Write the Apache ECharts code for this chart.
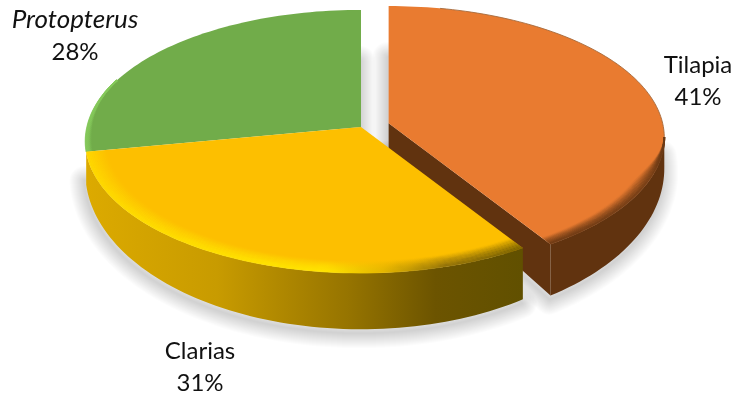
<!DOCTYPE html>
<html>
<head>
<meta charset="utf-8">
<style>html,body{margin:0;padding:0;background:#fff}#chart{width:737px;height:396px}</style>
<script src="https://cdn.jsdelivr.net/npm/echarts@6/dist/echarts.min.js"></script>
</head>
<body>
<div id="chart"></div>
<script>
// Fish catch composition, drawn as a tilted pie with a perspective rim.
const categories = ['Tilapia', 'Clarias', 'Protopterus'];
const shares = [41, 31, 28];
const topColors = ['#e97b30', '#fdbf00', '#71ac4a'];
const explode = [0.105, 0, 0];
const italicNames = ['Protopterus'];

// Projection of the disc: plane coordinates (px, pz) with pz pointing away from the viewer.
const view = { cx: 361, cy: 127, rx: 274, topB: 130, botB: 152, groundBack: 106, depth: 28, k: 0.11 };
const DEG = Math.PI / 180;
const total = shares.reduce((a, b) => a + b, 0);

function sliceAngles(i) {
  let start = 0;
  for (let j = 0; j < i; j++) start += shares[j] / total * 360;
  return [start, start + shares[i] / total * 360];
}
// plane: 'top' face, 'low' edge of the wall, or 'ground' for the cast shadow.
function project(i, deg, r, plane) {
  const [a, b] = sliceAngles(i);
  const mid = (a + b) / 2 * DEG;
  const px = r * Math.sin(deg * DEG);
  const pz = r * Math.cos(deg * DEG);
  const d = 1 + view.k * pz;
  let bb = view.topB, h = 0;
  if (plane === 'low') { bb = view.botB; h = view.depth; }
  if (plane === 'ground') { bb = pz > 0 ? view.groundBack : view.botB; h = view.depth; }
  const shiftX = explode[i] * Math.sin(mid) * view.rx;
  const shiftY = -explode[i] * Math.cos(mid) * view.topB;
  return [view.cx + shiftX + view.rx * px / d, view.cy + shiftY + (h - bb * pz) / d];
}
function arc(i, from, to, radius, plane) {
  const pts = [];
  const n = Math.max(2, Math.ceil(Math.abs(to - from) / 1.5));
  for (let s = 0; s <= n; s++) {
    const deg = from + (to - from) * s / n;
    const r = typeof radius === 'function' ? radius(deg) : radius;
    pts.push(project(i, deg, r, plane));
  }
  return pts;
}
function sideGradient(stops) {
  return {
    type: 'linear', x: 0, y: 0, x2: 1, y2: 0,
    colorStops: stops.map(s => ({ offset: s[0], color: s[1] }))
  };
}

// Wall and bevel paint per slice; the green slice shows no wall.
const wallPaint = [
  '#61330f',
  sideGradient([[0, '#dcaa00'], [0.3, '#c89b00'], [0.6, '#967400'], [0.8, '#6c5400'], [1, '#615000']]),
  null
];
const bevelPaint = [
  sideGradient([[0, '#6a3813'], [1, '#6a3813']]),
  sideGradient([[0, '#ffe000'], [0.55, '#ffe800'], [0.68, '#e0b400'], [0.82, '#86690a'], [1, '#6a5600']]),
  sideGradient([[0, '#84c85a'], [1, '#84c85a']])
];
// Stretch of rim that carries the bevel, its depth, and the angle over which it grows in.
const bevelRange = [[96, 147.6], [147.6, 259.2], [259.2, 292]];
const bevelWidth = [0.05, 0.075, 0.022];
const bevelGrow = [[96, 22], [0, 0], [292, -30]];
// Angular wedges of each slice that cast a visible shadow.
const shadowWedges = [[[0, 6], [90, 147.6]], [[147.6, 262]], [[352, 360]]];

const labelAnchors = [[698, 81], [200, 367], [75, 36]];

function smooth(t) {
  const x = Math.min(1, Math.max(0, t));
  return x * x * (3 - 2 * x);
}

function renderSlice(params, api) {
  const i = params.dataIndex;
  const share = api.value(0);
  const [a, b] = sliceAngles(i);
  const order = [10, 30, 20][i];
  const children = [];

  // Soft ground shadow under the disc, built from widening translucent outlines.
  shadowWedges[i].forEach(w => {
    const ground = arc(i, w[0], w[1], 1, 'ground').concat([project(i, 0, 0, 'ground')])
      .map(p => [p[0] - 1, p[1] + 4]);
    for (let width = 30; width >= 2; width -= 2) {
      children.push({
        type: 'polygon', z2: 1,
        shape: { points: ground },
        style: { fill: 'none', stroke: 'rgba(0,0,0,0.011)', lineWidth: width, lineJoin: 'round' }
      });
    }
  });

  // Outer wall on the viewer's side of the disc.
  const wa = Math.max(a, 96), wb = Math.min(b, 264);
  if (wallPaint[i] && wb > wa) {
    const wall = arc(i, wa, wb, 1, 'top').concat(arc(i, wb, wa, 1, 'low'));
    children.push({ type: 'polygon', z2: order, shape: { points: wall }, style: { fill: wallPaint[i] } });
  }
  // Cut face that turns towards the viewer.
  if (wallPaint[i] && Math.sin(b * DEG) > 0.01) {
    const face = [project(i, 0, 0, 'top'), project(i, b, 1, 'top'), project(i, b, 1, 'low'), project(i, 0, 0, 'low')];
    children.push({ type: 'polygon', z2: order, shape: { points: face }, style: { fill: wallPaint[i] } });
  }
  // Top face.
  const top = [project(i, 0, 0, 'top')].concat(arc(i, a, b, 1, 'top'));
  children.push({ type: 'polygon', z2: order + 1, shape: { points: top }, style: { fill: topColors[i] } });

  // Bevel: concentric strokes that fade into the top face.
  const range = bevelRange[i];
  const grow = bevelGrow[i];
  const taper = deg => (grow[1] === 0 ? 1 : smooth((deg - grow[0]) / grow[1]));
  const steps = 12;
  for (let s = 0; s < steps; s++) {
    const f = (s + 0.5) / steps;
    const radius = deg => 1 - bevelWidth[i] * f * taper(deg);
    children.push({
      type: 'polyline', z2: order + 2,
      shape: { points: arc(i, range[0], range[1], radius, 'top') },
      style: { stroke: bevelPaint[i], lineWidth: 1.8, fill: 'none', opacity: 0.8 * Math.pow(1 - f, 1.1) }
    });
  }
  // Thin dark outline on the far edge of the orange slice.
  if (i === 0) {
    children.push({
      type: 'polyline', z2: order + 2,
      shape: { points: arc(i, 12, 96, 1, 'top') },
      style: { stroke: '#a56a3c', lineWidth: 0.9, fill: 'none' }
    });
  }

  // Category and share label.
  const name = categories[i];
  const common = { x: labelAnchors[i][0], align: 'center', verticalAlign: 'middle', fill: '#111' };
  children.push({
    type: 'text', z2: 50,
    style: Object.assign({}, common, {
      y: labelAnchors[i][1] - 16, text: name,
      font: italicNames.includes(name) ? 'italic 26px Lato' : '24px Lato'
    })
  });
  children.push({
    type: 'text', z2: 50,
    style: Object.assign({}, common, { y: labelAnchors[i][1] + 16, text: share + '%', font: '24px Lato' })
  });
  return { type: 'group', children };
}

const chart = echarts.init(document.getElementById('chart'), null, { renderer: 'canvas' });
chart.setOption({
  animation: false,
  backgroundColor: '#fff',
  series: [{
    type: 'custom',
    coordinateSystem: 'none',
    silent: true,
    renderItem: renderSlice,
    data: shares.map((v, i) => ({ name: categories[i], value: [v] }))
  }]
});
</script>
</body>
</html>
